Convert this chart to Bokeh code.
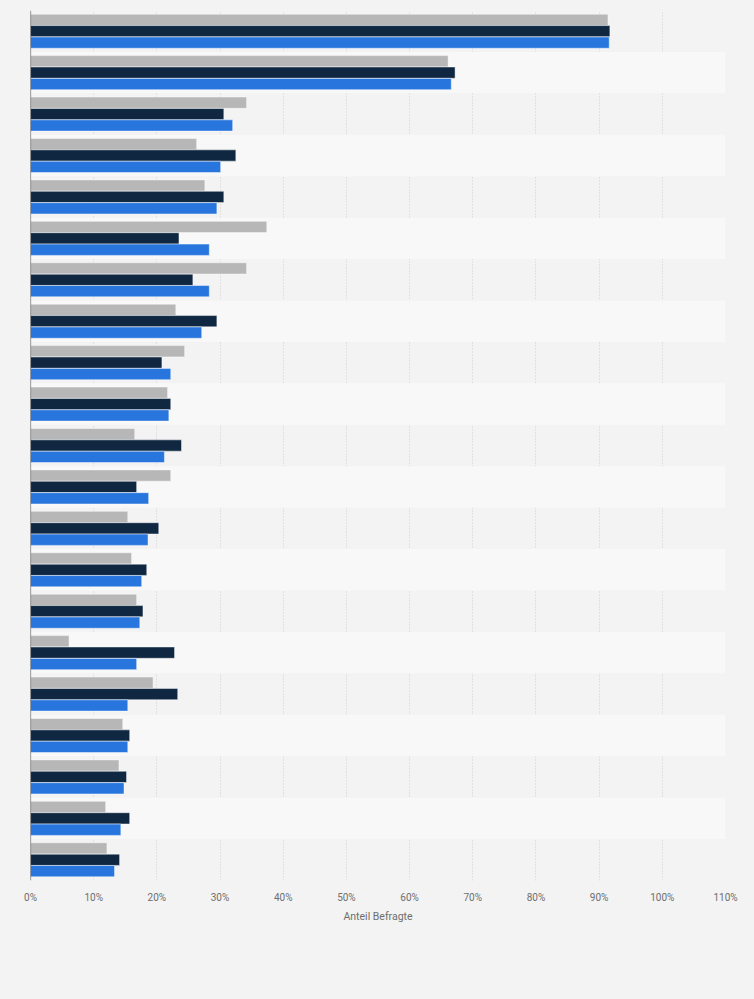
from bokeh.plotting import figure
from bokeh.models import FactorRange, Range1d, FixedTicker, PrintfTickFormatter, Span, ColumnDataSource
from bokeh.transform import dodge
from bokeh.embed import file_html
from bokeh.resources import INLINE

# ---- data ----
categories = [f"Kategorie {i}" for i in range(1, 22)]
series_names = ["Serie A", "Serie B", "Serie C"]
serie_a = [91.4, 66.1, 34.2, 26.3, 27.6, 37.4, 34.2, 23.0, 24.4, 21.7, 16.5,
           22.2, 15.4, 16.0, 16.8, 6.1, 19.4, 14.6, 14.0, 11.9, 12.1]
serie_b = [91.7, 67.2, 30.6, 32.5, 30.6, 23.5, 25.7, 29.5, 20.8, 22.2, 23.9,
           16.8, 20.3, 18.4, 17.8, 22.8, 23.3, 15.7, 15.2, 15.7, 14.1]
serie_c = [91.6, 66.6, 32.0, 30.1, 29.5, 28.3, 28.3, 27.1, 22.2, 21.9, 21.2,
           18.7, 18.6, 17.6, 17.3, 16.8, 15.4, 15.4, 14.8, 14.3, 13.3]
x_ticks = list(range(0, 111, 10))
x_title = "Anteil Befragte"

colors = ["#b7b7b7", "#0f2741", "#2876dd"]
offsets = [0.275, 0.0, -0.275]

BG = "#f3f3f3"
BAND = "#f8f8f8"
TXT = "#6e6e6e"
FONT = "Roboto"

source = ColumnDataSource(dict(cat=categories, a=serie_a, b=serie_b, c=serie_c))

p = figure(
    width=754, height=999,
    y_range=FactorRange(factors=list(reversed(categories)), range_padding=0),
    x_range=Range1d(x_ticks[0], x_ticks[-1]),
    output_backend="svg", toolbar_location=None,
    min_border_left=30, min_border_right=29, min_border_top=10, min_border_bottom=119,
    background_fill_color=BG, border_fill_color=BG,
)
p.outline_line_color = None

# alternating row bands
band_cats = categories[1::2]
p.hbar(y=band_cats, left=x_ticks[0], right=x_ticks[-1], height=1.0,
       fill_color=BAND, line_color=None)

for col, color, off in zip(["a", "b", "c"], colors, offsets):
    p.hbar(y=dodge("cat", off, range=p.y_range), right=col, left=0, height=0.272,
           source=source, fill_color=color, line_color="#ffffff", line_alpha=0.45,
           line_width=1)

# grid
p.ygrid.grid_line_color = None
p.xgrid.ticker = FixedTicker(ticks=x_ticks)
p.xgrid.grid_line_color = "#cfcfcf"
p.xgrid.grid_line_dash = "1 2"
p.xgrid.grid_line_width = 1
p.xgrid.level = "underlay"

# axes
p.yaxis.visible = False
xa = p.xaxis[0]
xa.ticker = FixedTicker(ticks=x_ticks)
xa.formatter = PrintfTickFormatter(format="%d%%")
xa.axis_line_color = None
xa.major_tick_line_color = None
xa.minor_tick_line_color = None
xa.major_label_text_font = FONT
xa.major_label_text_font_size = "10px"
xa.major_label_text_color = TXT
xa.major_label_standoff = 5
xa.axis_label = x_title
xa.axis_label_text_font = FONT
xa.axis_label_text_font_size = "10.5px"
xa.axis_label_text_font_style = "normal"
xa.axis_label_text_color = TXT
xa.axis_label_standoff = 4

# vertical baseline
p.add_layout(Span(location=0, dimension="height", line_color="#5a5a5a", line_width=1.2))

html = file_html(p, INLINE)
html = html.replace("</head>", "<style>html, body { background: %s; }</style></head>" % BG, 1)
open("out.html", "w").write(html)
